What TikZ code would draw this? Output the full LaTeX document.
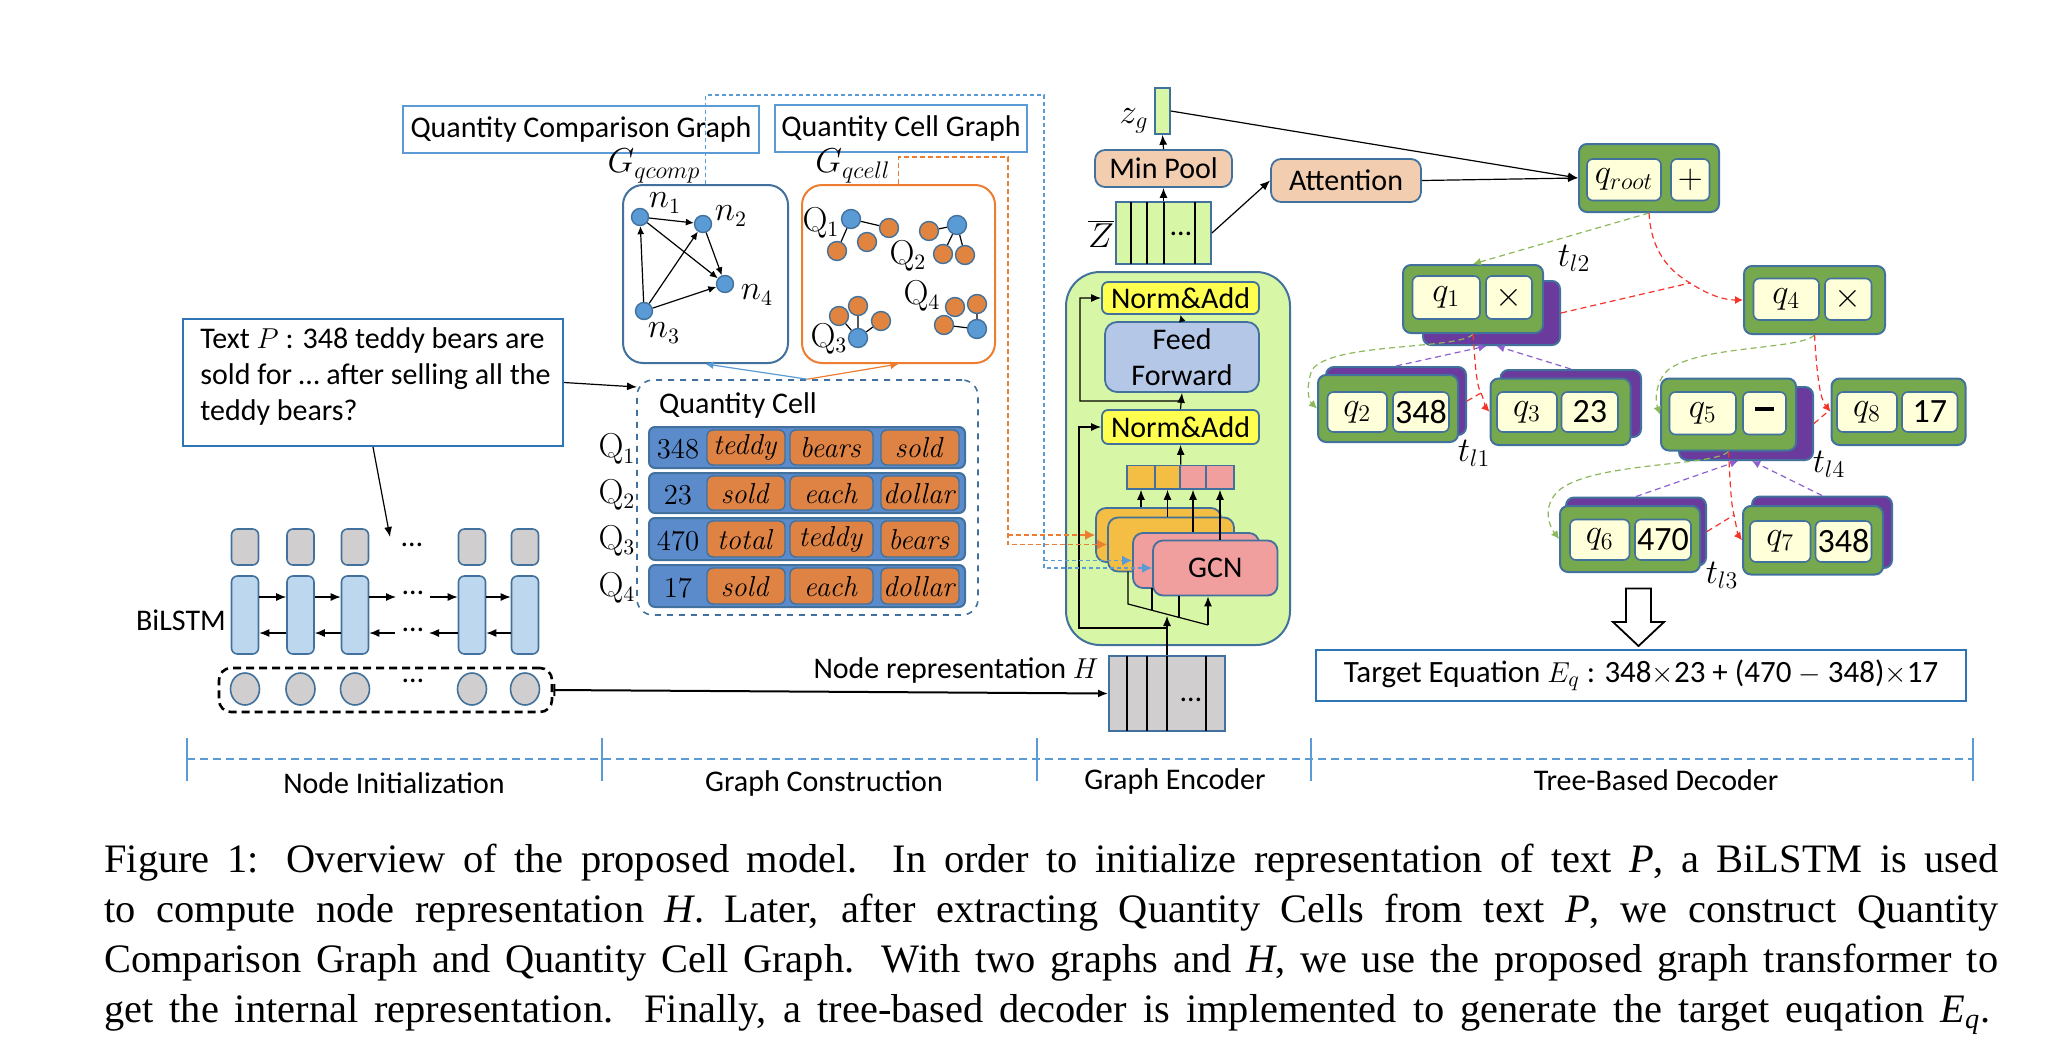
\documentclass[tikz,border=0pt]{standalone}
\usepackage[no-math]{fontspec}
\setmainfont{Carlito}
\newfontfamily\capfont{Liberation Serif}
\usetikzlibrary{arrows.meta,calc,shapes.geometric}
\definecolor{bdr}{HTML}{41719C}
\definecolor{lblue}{HTML}{5B9BD5}
\definecolor{tblue}{HTML}{2E75B6}
\definecolor{nblue}{HTML}{5B9BD5}
\definecolor{nora}{HTML}{E0843F}
\definecolor{corange}{HTML}{ED7D31}
\definecolor{qrow}{HTML}{5B8BCB}
\definecolor{qor}{HTML}{DF8344}
\definecolor{ngray}{HTML}{D0CECE}
\definecolor{lstm}{HTML}{BDD7EE}
\definecolor{encg}{HTML}{D8F7A6}
\definecolor{nay}{HTML}{FFFF4F}
\definecolor{ffb}{HTML}{B4C7E7}
\definecolor{gcny}{HTML}{F4BE45}
\definecolor{gcnp}{HTML}{F09E9E}
\definecolor{peach}{HTML}{F2CDB0}
\definecolor{dgreen}{HTML}{76A84E}
\definecolor{cream}{HTML}{FFFFD9}
\definecolor{purp}{HTML}{6A3A9C}
\definecolor{egreen}{HTML}{8DB85A}
\definecolor{ered}{HTML}{F5332A}
\definecolor{epurp}{HTML}{8F5FCF}
\newcommand\bx[7]{\node[#6, minimum width={((#4)-(#2))*0.5pt}, minimum height={((#5)-(#3))*0.5pt}, inner sep=0pt] (#1) at ({((#2)+(#4))/2},{((#3)+(#5))/2}) {#7};}
\tikzset{
  fs/.style={font=\fontsize{15}{18}\selectfont},
  fm/.style={font=\fontsize{16}{18}\selectfont},
  fl/.style={font=\fontsize{17}{20}\selectfont},
  tbox/.style={draw=lblue, line width=0.9pt, fill=white},
  bnode/.style={circle, fill=nblue, draw=bdr, line width=0.7pt, minimum size=8.5pt, inner sep=0pt},
  onode/.style={circle, fill=nora, draw=bdr, line width=0.7pt, minimum size=9.5pt, inner sep=0pt},
  qbnode/.style={bnode, minimum size=9.5pt},
  rowst/.style={fill=qrow, draw=bdr, line width=1pt, rounded corners=3pt},
  cellst/.style={fill=qor, draw=bdr, line width=0.7pt, rounded corners=3pt},
  gbx/.style={fill=ngray, draw=bdr, line width=0.8pt, rounded corners=3pt},
  lbx/.style={fill=lstm, draw=bdr, line width=0.8pt, rounded corners=3pt},
  nabox/.style={fill=nay, draw=bdr, line width=0.9pt, rounded corners=3pt},
  ffbox/.style={fill=ffb, draw=bdr, line width=0.9pt, rounded corners=6pt},
  pbox/.style={fill=peach, draw=bdr, line width=0.9pt, rounded corners=5pt},
  ylay/.style={fill=gcny, draw=bdr, line width=0.9pt, rounded corners=5pt},
  play/.style={fill=gcnp, draw=bdr, line width=0.9pt, rounded corners=5pt},
  greenbox/.style={fill=dgreen, draw=bdr, line width=1pt, rounded corners=4pt},
  shbox/.style={fill=purp, draw=bdr, line width=1pt, rounded corners=4pt},
  cbox/.style={fill=cream, draw=bdr, line width=0.8pt, rounded corners=3pt, fl},
  arr/.style={line width=0.6pt, -{Latex[length=5pt,width=4pt]}},
  edg/.style={line width=0.6pt, -{Latex[length=4pt,width=3.5pt]}},
  dtip/.style={-{Latex[length=4pt,width=4pt]}},
  gdash/.style={draw=egreen, line width=0.6pt, dash pattern=on 3pt off 2pt, dtip},
  rdash/.style={draw=ered, line width=0.6pt, dash pattern=on 3pt off 2pt, dtip},
  pdash/.style={draw=epurp, line width=0.6pt, dash pattern=on 3pt off 2pt, dtip},
  odash/.style={draw=corange, line width=0.7pt, dash pattern=on 2.5pt off 1.5pt, -{Latex[length=5pt,width=5pt]}},
  bdash/.style={draw=lblue, line width=0.7pt, dash pattern=on 2pt off 1.5pt, -{Latex[length=5pt,width=5pt]}},
}
\begin{document}
\begin{tikzpicture}[x=0.5pt,y=-0.5pt, fs]
\useasboundingbox (0,0) rectangle (2054,1060);

% ---------- graph construction ----------
\bx{qcgt}{403}{106}{759}{153}{tbox}{Quantity Comparison Graph}
\bx{qclt}{775}{105}{1027}{152}{tbox}{Quantity Cell Graph}
\bx{gcomp}{623}{185}{788}{363}{draw=bdr, line width=1pt, rounded corners=10pt}{}
\bx{gcell}{802}{185}{995}{363}{draw=corange, line width=1pt, rounded corners=10pt}{}
\node[fl, inner sep=1pt] (lgcomp) at (654,166) {$G_{qcomp}$};
\node[fl, inner sep=1pt] (lgcell) at (853,166) {$G_{qcell}$};

\node[bnode] (n1) at (640,217) {};
\node[bnode] (n2) at (703,224) {};
\node[bnode] (n4) at (725,284) {};
\node[bnode] (n3) at (644,311) {};
\draw[edg] (n1) -- (n2);
\draw[edg] (n1) -- (n4);
\draw[edg] (n2) -- (n4);
\draw[edg] (n3) -- (n1);
\draw[edg] (n3) -- (n2);
\draw[edg] (n3) -- (n4);
\node[fm, inner sep=1pt] (ln1) at (665,203) {$n_1$};
\node[fm, inner sep=1pt] (ln2) at (731,216) {$n_2$};
\node[fm, inner sep=1pt] (ln4) at (757,295) {$n_4$};
\node[fm, inner sep=1pt] (ln3) at (664,333) {$n_3$};

\node[qbnode] (b1) at (851,219) {};
\node[onode] (o11) at (889,228) {};
\node[onode] (o12) at (867,242) {};
\node[onode] (o13) at (837,251) {};
\node[qbnode] (b2) at (957,225) {};
\node[onode] (o21) at (929,231) {};
\node[onode] (o22) at (943,254) {};
\node[onode] (o23) at (965,255) {};
\node[qbnode] (b3) at (858,338) {};
\node[onode] (o31) at (839,316) {};
\node[onode] (o32) at (858,306) {};
\node[onode] (o33) at (881,321) {};
\node[qbnode] (b4) at (977,329) {};
\node[onode] (o41) at (955,307) {};
\node[onode] (o42) at (977,304) {};
\node[onode] (o43) at (944,325) {};
\draw[line width=0.6pt] (b1) -- (o11) (b1) -- (o13) (b2) -- (o21) (b2) -- (o22) (b2) -- (o23)
  (b3) -- (o32) (b3) -- (o33) (b3) -- (o31) (b4) -- (o43) (b4) -- (o42);
\node[fm, inner sep=1pt] (lq1) at (821,223) {$\mathrm{Q}_1$};
\node[fm, inner sep=1pt] (lq2) at (908,256) {$\mathrm{Q}_2$};
\node[fm, inner sep=1pt] (lq3) at (829,339) {$\mathrm{Q}_3$};
\node[fm, inner sep=1pt] (lq4) at (922,296) {$\mathrm{Q}_4$};

% quantity cell
\bx{qcbox}{637}{380}{978}{615}{draw=bdr, dashed, line width=0.8pt, rounded corners=8pt}{}
\node (qclab) at (738,405) {Quantity Cell};
\foreach \i/\t/\b/\n/\wa/\wb/\wc in {1/427/468/348/teddy/bears/sold,2/473/513/23/sold/each/dollar,3/518/560/470/total/teddy/bears,4/565/607/17/sold/each/dollar}{
  \bx{row\i}{649}{\t}{965}{\b}{rowst}{}
  \bx{ca\i}{707}{\t+3}{785}{\b-3}{cellst}{$\mathit{\wa}$}
  \bx{cb\i}{790}{\t+3}{873}{\b-3}{cellst}{$\mathit{\wb}$}
  \bx{cc\i}{881}{\t+3}{959}{\b-3}{cellst}{$\mathit{\wc}$}
  \node (num\i) at (678,{(\t+\b)/2+2}) {$\n$};
  \node[fm] (rq\i) at (617,{(\t+\b)/2+2}) {$\mathrm{Q}_\i$};
}
\draw[line width=0.6pt, draw=lblue, -{Latex[length=4pt,width=4pt]}] (qcbox.north) -- (gcomp.south);
\draw[line width=0.6pt, draw=corange, -{Latex[length=4pt,width=4pt]}] (qcbox.north) -- (gcell.south);

% ---------- node initialization ----------
\bx{textP}{183}{319}{563}{446}{draw=tblue, line width=1pt}{}
\node[anchor=base west, inner sep=0pt] (tp1) at (200,348) {Text $P$ : 348 teddy bears are};
\node[anchor=base west, inner sep=0pt] (tp2) at (200,384) {sold for \ldots\ after selling all the};
\node[anchor=base west, inner sep=0pt] (tp3) at (200,420) {teddy bears?};

\foreach \k/\x in {1/245,2/300.5,3/355,4/472,5/525}{
  \bx{g\k}{\x-13.5}{529}{\x+13.5}{565}{gbx}{}
  \bx{l\k}{\x-13.5}{576}{\x+13.5}{654}{lbx}{}
  \node[ellipse, fill=ngray, draw=bdr, line width=0.8pt, minimum width=14.5pt, minimum height=16pt, inner sep=0pt] (c\k) at (\x,689) {};
}
\node (d1) at (412,545) {\ldots};
\node (d2) at (413,593) {\ldots};
\node (d3) at (413,630) {\ldots};
\node (d4) at (413,681) {\ldots};
\node (bil) at (181,620) {BiLSTM};
\coordinate (fa) at (396,597); \coordinate (fb) at (430,597);
\coordinate (ba) at (395,633); \coordinate (bb) at (429,633);
\draw[arr] ($(l1.east)+(0,-18)$) -- ($(l2.west)+(0,-18)$);
\draw[arr] ($(l2.east)+(0,-18)$) -- ($(l3.west)+(0,-18)$);
\draw[arr] ($(l3.east)+(0,-18)$) -- (fa);
\draw[arr] (fb) -- ($(l4.west)+(0,-18)$);
\draw[arr] ($(l4.east)+(0,-18)$) -- ($(l5.west)+(0,-18)$);
\draw[arr] ($(l2.west)+(0,18)$) -- ($(l1.east)+(0,18)$);
\draw[arr] ($(l3.west)+(0,18)$) -- ($(l2.east)+(0,18)$);
\draw[arr] (ba) -- ($(l3.east)+(0,18)$);
\draw[arr] ($(l4.west)+(0,18)$) -- (bb);
\draw[arr] ($(l5.west)+(0,18)$) -- ($(l4.east)+(0,18)$);
\bx{dbox}{219}{668}{552}{712}{draw=black, line width=1.3pt, dash pattern=on 4pt off 2.5pt, rounded corners=6pt}{}
\coordinate (lstmin) at (390,537);
\coordinate (qcin) at (637,387);
\draw[arr] (textP.south) -- (lstmin);
\draw[arr] (textP.east) -- (qcin);

% ---------- graph encoder ----------
\bx{enc}{1066}{272}{1290}{645}{draw=bdr, fill=encg, line width=1pt, rounded corners=17pt}{}
\bx{NAt}{1102}{282}{1259}{314}{nabox}{Norm\&Add}
\bx{FF}{1105}{322}{1259}{392}{ffbox, align=center}{Feed\\Forward}
\bx{NAb}{1102}{410}{1259}{444}{nabox}{Norm\&Add}
\bx{cat1}{1127}{465.5}{1155}{489}{fill=gcny, draw=bdr, line width=0.8pt}{}
\bx{cat2}{1155}{465.5}{1180}{489}{fill=gcny, draw=bdr, line width=0.8pt}{}
\bx{cat3}{1180}{465.5}{1206}{489}{fill=gcnp, draw=bdr, line width=0.8pt}{}
\bx{cat4}{1206}{465.5}{1234}{489}{fill=gcnp, draw=bdr, line width=0.8pt}{}
\bx{L1}{1096}{508}{1221}{562}{ylay}{}
\bx{L2}{1108}{517.5}{1234}{571.5}{ylay}{}
\bx{L3}{1133}{533}{1259}{588}{play}{}
\bx{L4}{1153}{540.5}{1277.5}{595.5}{play}{GCN}
\draw[arr] (L1.north -| cat1.south) -- (cat1.south);
\draw[arr] (L2.north -| cat2.south) -- (cat2.south);
\draw[arr] (L3.north -| cat3.south) -- (cat3.south);
\draw[arr] (L4.north -| cat4.south) -- (cat4.south);
\draw[arr] (cat2.north east) -- (NAb.south);
\draw[arr] (NAb.north) -- (FF.south);
\draw[line width=0.6pt, -{Latex[length=3.5pt,width=3.5pt]}] (FF.north) -- (NAt.south);
\coordinate (res1) at ($(FF.south)!0.5!(NAb.north)$);
\draw[arr] (res1) -- (1080,401) |- (NAt.west);

\bx{H}{1109}{656}{1225}{731}{fill=ngray, draw=bdr, line width=0.9pt}{}
\foreach \x in {1127,1147,1167,1206}{\draw[line width=0.6pt] (\x,656) -- (\x,731);}
\node (hd) at (1191,700) {\ldots};
\node (hlab) at (956,670) {Node representation $H$};
\draw[line width=1pt, {Bar[width=6pt]}-{Latex[length=5pt,width=4pt]}] (dbox.east) -- (H.west);

\coordinate (fan1) at (1128,604); \coordinate (fan2) at (1208,625);
\draw[line width=0.6pt] (1128,571.5) -- (fan1) -- (fan2);
\draw[line width=0.6pt] (1152,588) -- (1152,610.3);
\draw[line width=0.6pt] (1179,595.5) -- (1179,617.4);
\draw[arr] (fan2) -- (fan2 |- L4.south);
\draw[arr] (H.north) -- (1167,616);
\draw[arr] (1167,628) -- (1079,628) |- (NAb.west);

\draw[odash] (gcell.north) |- (1008,157) -- (1008,544.5) -- (L2.west);
\draw[odash] (1008,535) -- (L1.west);
\draw[bdash] (gcomp.north) |- (1044,95) -- (1044,568) -- (L4.west);
\draw[bdash] (1044,560.5) -- (L3.west);

\bx{Z}{1116}{202}{1211}{264}{fill=encg, draw=bdr, line width=0.9pt}{}
\foreach \x in {1131,1147,1164,1195}{\draw[line width=0.6pt] (\x,202) -- (\x,264);}
\node (zd) at (1181,234) {\ldots};
\node[fl] (zlab) at (1101,234) {$\overline{Z}$};
\bx{MP}{1095}{150}{1232}{187}{pbox}{Min Pool}
\bx{zg}{1155}{88}{1170}{134}{fill=encg, draw=bdr, line width=0.8pt}{}
\node[fl] (zglab) at (1134,121) {$z_g$};
\bx{att}{1271}{159}{1421}{202}{pbox}{Attention}
\draw[arr] (Z.north) -- (MP.south);
\draw[arr] (MP.north) -- (zg.south);
\draw[arr] (Z.east) -- (att.west);

% ---------- tree-based decoder ----------
\bx{qroot}{1579}{144}{1719}{212}{greenbox}{}
\bx{qrc}{1587}{159}{1661}{200.5}{cbox}{$q_{root}$}
\bx{qrp}{1671}{159}{1709.5}{200.5}{cbox}{$+$}
\draw[arr] (att.east) -- (qroot.west);
\draw[arr] (zg.east) -- (qroot.west);

\bx{q1s}{1423}{281}{1560}{345}{shbox}{}
\bx{q1}{1403}{265}{1543}{333}{greenbox}{}
\bx{q1a}{1412.5}{276}{1480}{319}{cbox}{$q_1$}
\bx{q1b}{1486}{276}{1532}{319}{cbox}{$\times$}

\bx{q4}{1744}{266}{1885}{334}{greenbox}{}
\bx{q4a}{1753.5}{278.5}{1819}{320}{cbox}{$q_4$}
\bx{q4b}{1825}{278.5}{1871.5}{320}{cbox}{$\times$}

\bx{q2s}{1326}{367}{1466}{435}{shbox}{}
\bx{q2}{1318}{375}{1458}{442}{greenbox}{}
\bx{q2a}{1327.5}{392}{1387}{432}{cbox}{$q_2$}
\bx{q2b}{1393}{392}{1449}{432}{cbox}{348}

\bx{q3s}{1500.5}{370}{1641}{437}{shbox}{}
\bx{q3}{1490.5}{378.5}{1630.5}{445}{greenbox}{}
\bx{q3a}{1497}{392}{1557}{432}{cbox}{$q_3$}
\bx{q3b}{1561.5}{392}{1618}{432}{cbox}{23}

\bx{q5s}{1679}{387}{1813}{460}{shbox}{}
\bx{q5}{1661}{378.5}{1796}{450.5}{greenbox}{}
\bx{q5a}{1669.5}{392}{1736}{434.5}{cbox}{$q_5$}
\bx{q5b}{1743}{392}{1786}{434.5}{cbox}{\rule[0.25em]{0.55em}{1.6pt}}

\bx{q8}{1831.5}{378.5}{1965.5}{445}{greenbox}{}
\bx{q8a}{1837}{392}{1897}{432}{cbox}{$q_8$}
\bx{q8b}{1902}{392}{1957.5}{432}{cbox}{17}

\bx{q6s}{1566}{497.5}{1706}{565.5}{shbox}{}
\bx{q6}{1560}{506}{1700}{572}{greenbox}{}
\bx{q6a}{1570}{519.5}{1629.5}{560}{cbox}{$q_6$}
\bx{q6b}{1635}{519.5}{1691}{560}{cbox}{470}

\bx{q7s}{1752}{496.5}{1892}{568}{shbox}{}
\bx{q7}{1743}{506}{1883}{574.5}{greenbox}{}
\bx{q7a}{1750}{521}{1810.5}{562}{cbox}{$q_7$}
\bx{q7b}{1815.5}{521}{1871.5}{562}{cbox}{348}

\node[fl] (tl2) at (1574,258) {$t_{l2}$};
\node[fl] (tl1) at (1474,453) {$t_{l1}$};
\node[fl] (tl4) at (1829,464) {$t_{l4}$};
\node[fl] (tl3) at (1722,575) {$t_{l3}$};

\draw[gdash] (qroot.south) -- (q1.north);
\coordinate (rj1) at (1690,283);
\draw[rdash] (qroot.south) .. controls (1651,250) and (1668,270) .. (rj1) .. controls (1710,296) and (1725,300) .. (q4.west);
\draw[rdash, -] (q1s.east) -- (rj1);

\draw[gdash] (q1.south) .. controls (1460,350) and (1330,342) .. (1312,370) .. controls (1306,385) and (1308,400) .. (q2.west);
\coordinate (rj2) at (1481,393);
\draw[rdash] (q1.south) .. controls (1475,360) and (1476,385) .. (rj2) .. controls (1484,400) and (1486,408) .. (q3.west);
\draw[rdash, -] (q2s.east) -- (rj2);
\draw[pdash] (q2s.north) -- ($(q1s.south)+(-5,0)$);
\draw[pdash] (q3s.north) -- ($(q1s.south)+(5,0)$);

\draw[gdash] (q4.south) .. controls (1800,350) and (1700,345) .. (1668,370) .. controls (1655,382) and (1655,400) .. (q5.west);
\coordinate (rj3) at (1822,398);
\draw[rdash] (q4.south) .. controls (1816,360) and (1818,385) .. (rj3) .. controls (1825,405) .. (q8.west);
\draw[rdash, -] (q5s.east) -- ($(q8.west)+(-4,1)$);

\draw[gdash] (q5.south) .. controls (1715,466) and (1600,462) .. (1562,488) .. controls (1545,500) and (1545,520) .. (q6.west);
\coordinate (rj4) at (1734,515);
\draw[rdash] (q5.south) .. controls (1730,480) and (1731,505) .. (rj4) .. controls (1736,525) and (1738,535) .. (q7.west);
\draw[rdash, -] (q6s.east) -- (rj4);
\draw[pdash] (q6s.north) -- ($(q5s.south)+(-8,0)$);
\draw[pdash] (q7s.north) -- ($(q5s.south)+(6,0)$);

\draw[line width=0.9pt, fill=white] (1626,588.5) -- (1651,588.5) -- (1651,622) -- (1664,622) -- (1638.5,646) -- (1613,622) -- (1626,622) -- cycle;
\bx{target}{1316}{649.5}{1966}{701}{draw=tblue, line width=1pt, font=\fontsize{15.5}{18}\selectfont}{Target Equation $E_q$ : 348$\times$23 + (470 $-$ 348)$\times$17}

% ---------- sections ----------
\draw[draw=lblue, line width=1.2pt, dash pattern=on 4pt off 2.5pt] (187,759) -- (1973,759);
\foreach \x in {187,602,1037,1311,1973}{\draw[draw=lblue, line width=1pt] (\x,738) -- (\x,781);}
\node (s1) at (394,783) {Node Initialization};
\node (s2) at (824,783) {Graph Construction};
\node (s3) at (1175,781) {Graph Encoder};
\node (s4) at (1656,780) {Tree-Based Decoder};

% ---------- caption ----------
\node[anchor=base west, inner sep=0pt] (cap) at (104,872) {\parbox[t]{947pt}{\capfont\fontsize{20.2}{25.1}\selectfont\parfillskip=4pt Figure 1: Overview of the proposed model. In order to initialize representation of text \textit{P}, a BiLSTM is used\linebreak to compute node representation \textit{H}. Later, after extracting Quantity Cells from text \textit{P}, we construct Quantity\linebreak Comparison Graph and Quantity Cell Graph. With two graphs and \textit{H}, we use the proposed graph transformer to\linebreak get the internal representation. Finally, a tree-based decoder is implemented to generate the target euqation \textit{E}\textsubscript{\textit{q}}.}};
\end{tikzpicture}
\end{document}
